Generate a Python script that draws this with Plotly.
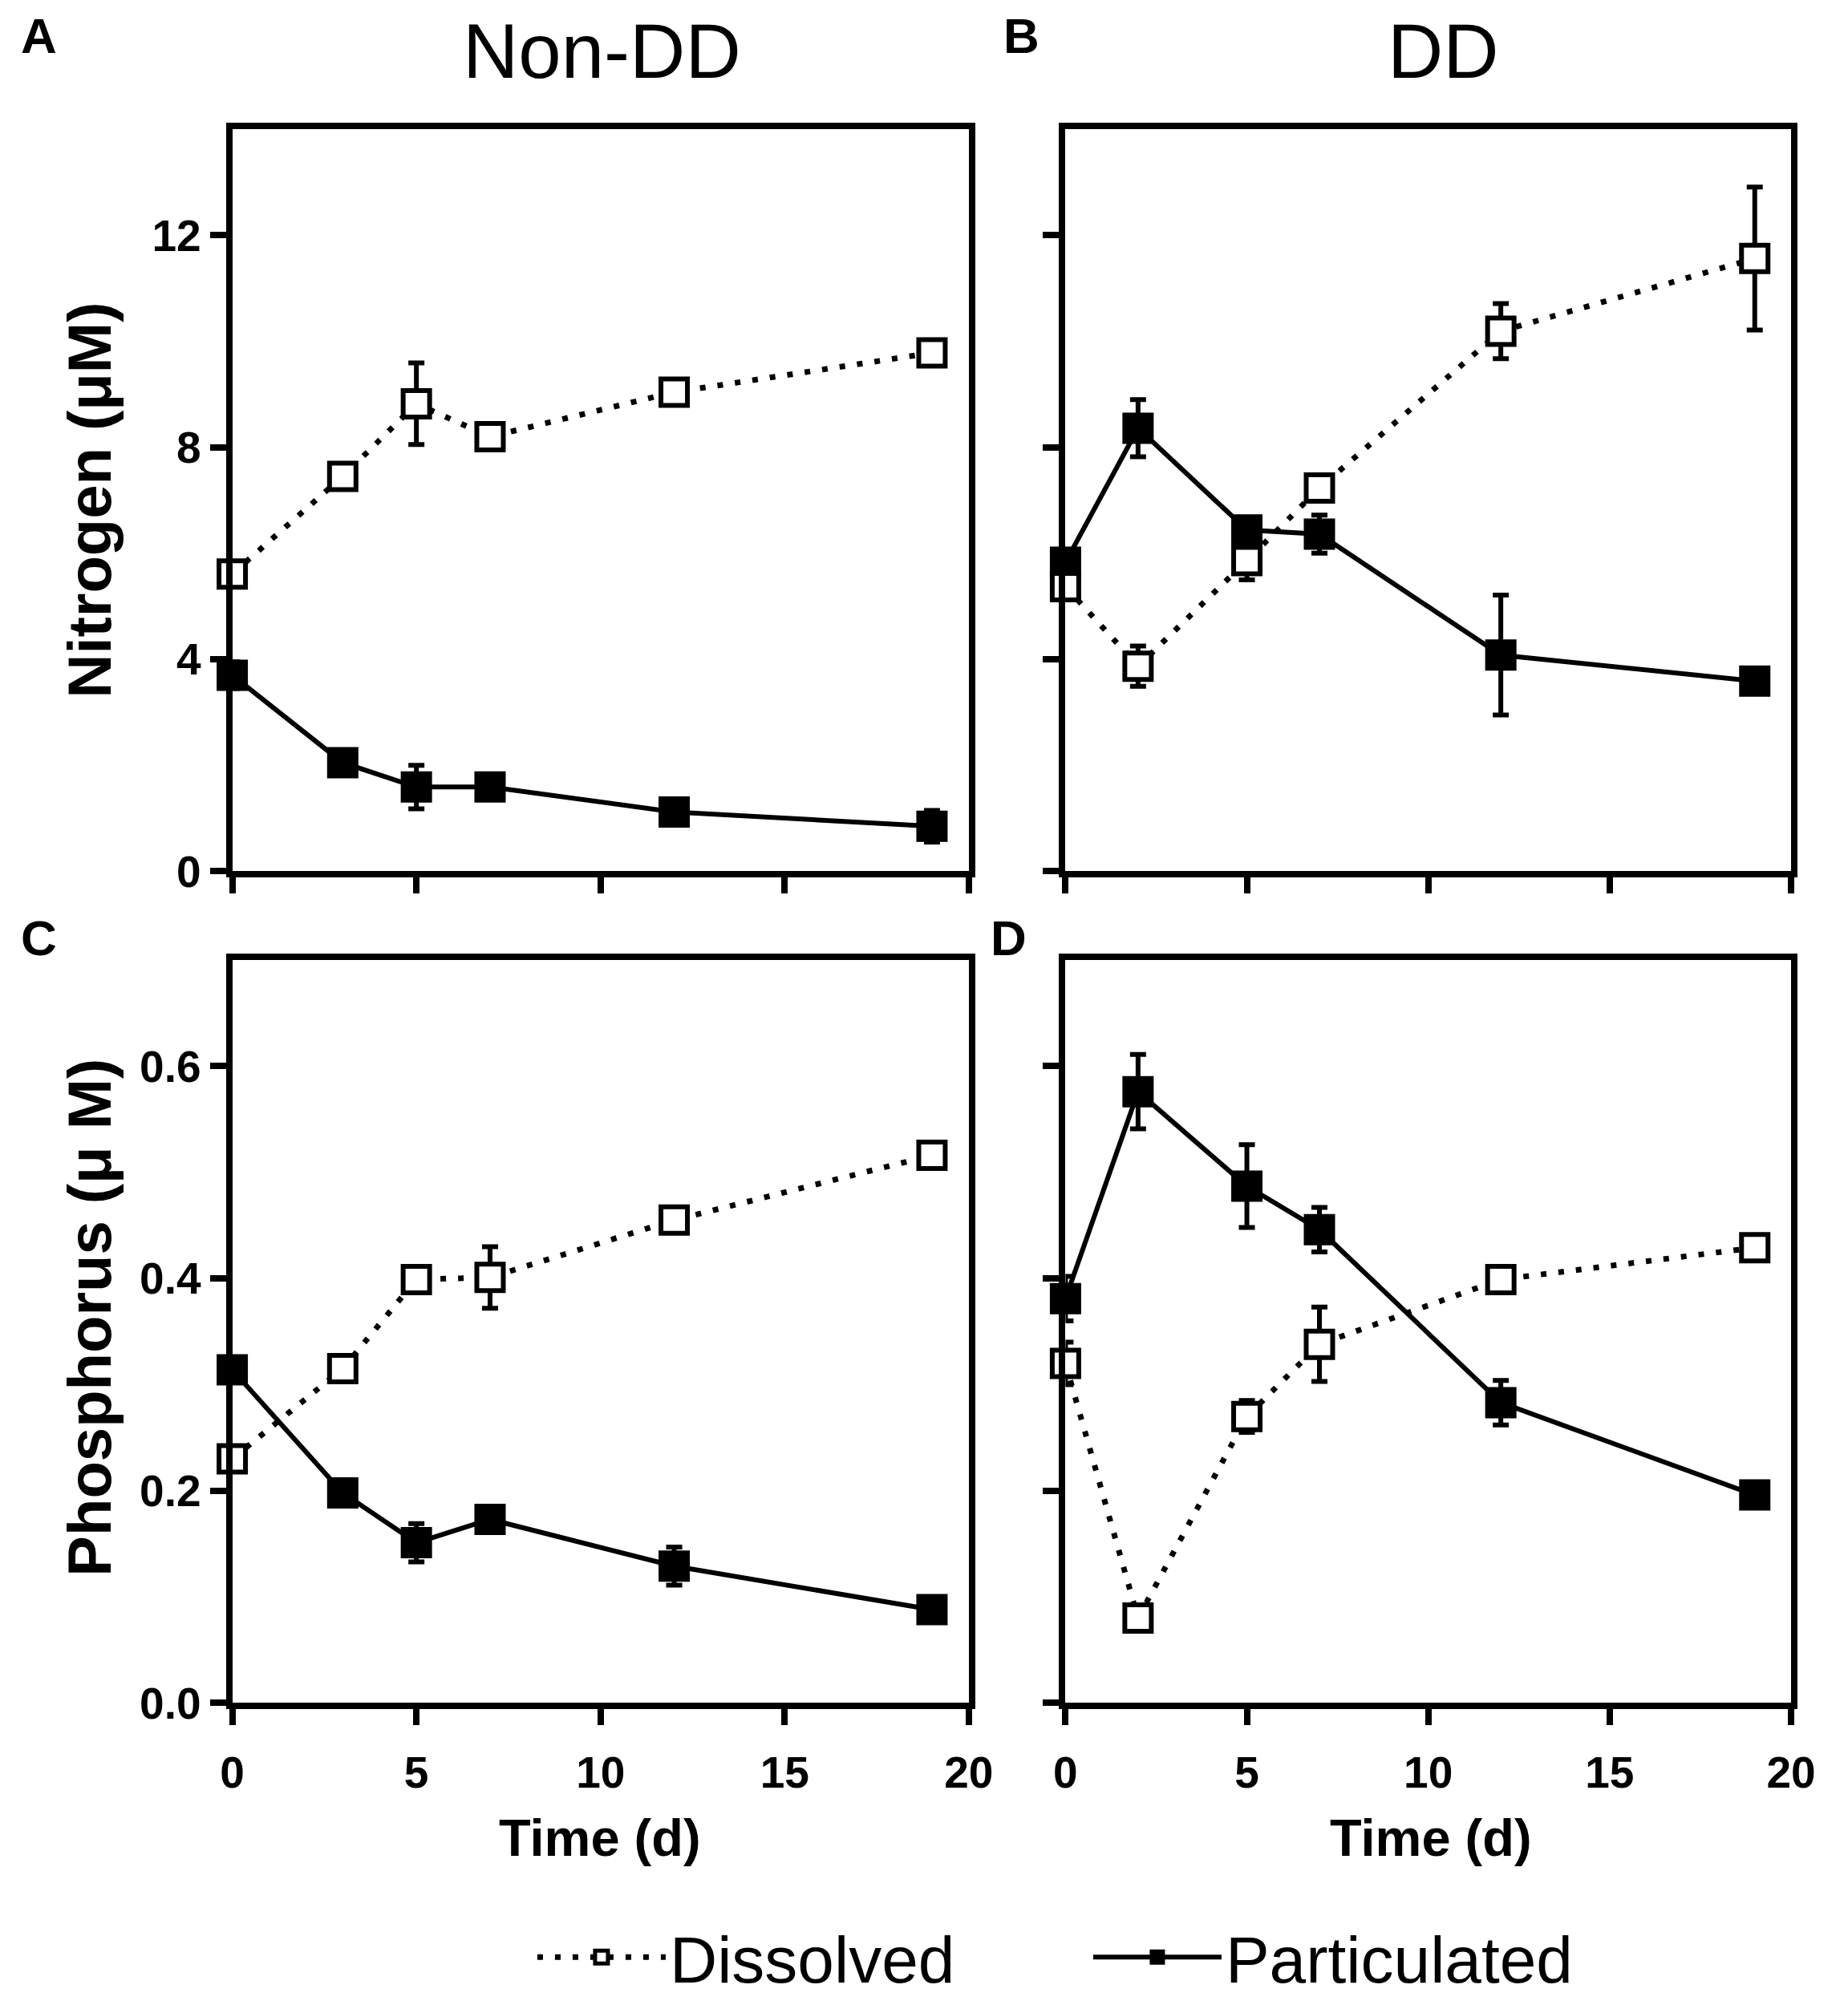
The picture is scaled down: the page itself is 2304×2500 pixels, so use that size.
import plotly.graph_objects as go
from plotly.subplots import make_subplots

# sampling days
days_nondd = [0, 3, 5, 7, 12, 19]
days_dd = [0, 2, 5, 7, 12, 19]

# nitrogen (uM)
n_nondd_dis = [5.61, 7.45, 8.82, 8.2, 9.04, 9.78]
n_nondd_dis_err = [0.1, 0.1, 0.77, 0.1, 0.1, 0.1]
n_nondd_par = [3.7, 2.05, 1.59, 1.59, 1.12, 0.85]
n_nondd_par_err = [0.25, 0.1, 0.41, 0.1, 0.1, 0.3]
n_dd_dis = [5.37, 3.87, 5.86, 7.23, 10.19, 11.56]
n_dd_dis_err = [0.1, 0.38, 0.36, 0.1, 0.52, 1.35]
n_dd_par = [5.83, 8.36, 6.44, 6.36, 4.08, 3.59]
n_dd_par_err = [0.1, 0.54, 0.1, 0.36, 1.13, 0.1]

# phosphorus (uM)
p_nondd_dis = [0.230, 0.315, 0.399, 0.401, 0.455, 0.516]
p_nondd_dis_err = [0.005, 0.005, 0.005, 0.029, 0.005, 0.005]
p_nondd_par = [0.314, 0.198, 0.151, 0.173, 0.129, 0.088]
p_nondd_par_err = [0.005, 0.005, 0.018, 0.005, 0.018, 0.005]
p_dd_dis = [0.320, 0.080, 0.270, 0.338, 0.399, 0.429]
p_dd_dis_err = [0.02, 0.005, 0.015, 0.035, 0.005, 0.005]
p_dd_par = [0.381, 0.576, 0.487, 0.446, 0.283, 0.196]
p_dd_par_err = [0.021, 0.035, 0.039, 0.021, 0.021, 0.012]

W, H = 2304, 2500
FAMILY = "Liberation Sans, Arial"
BOLD = dict(family=FAMILY, color="black", weight="bold")

fig = make_subplots(rows=2, cols=2)

panels = [
    (1, 1, days_nondd, n_nondd_dis, n_nondd_dis_err, n_nondd_par, n_nondd_par_err),
    (1, 2, days_dd, n_dd_dis, n_dd_dis_err, n_dd_par, n_dd_par_err),
    (2, 1, days_nondd, p_nondd_dis, p_nondd_dis_err, p_nondd_par, p_nondd_par_err),
    (2, 2, days_dd, p_dd_dis, p_dd_dis_err, p_dd_par, p_dd_par_err),
]

for i, (r, c, x, dis, dis_err, par, par_err) in enumerate(panels):
    first = i == 0
    # particulated drawn first so the open squares sit on top
    fig.add_trace(
        go.Scatter(
            x=x, y=par, mode="lines+markers", name="Particulated",
            legendgroup="par", showlegend=first, legendrank=2,
            line=dict(color="black", width=6),
            marker=dict(symbol="square", size=36, color="black",
                        line=dict(color="black", width=3)),
            error_y=dict(type="data", array=par_err, color="black",
                         thickness=6, width=10),
            cliponaxis=False,
        ),
        row=r, col=c,
    )
    fig.add_trace(
        go.Scatter(
            x=x, y=dis, mode="lines+markers", name="Dissolved",
            legendgroup="dis", showlegend=first, legendrank=1,
            line=dict(color="black", width=7, dash="7px,15px"),
            marker=dict(symbol="square", size=33, color="white",
                        line=dict(color="black", width=6)),
            error_y=dict(type="data", array=dis_err, color="black",
                         thickness=6, width=10),
            cliponaxis=False,
        ),
        row=r, col=c,
    )

# panel geometry (paper fractions)
xdom = [[272 / W, 1209 / W], [1332 / W, 2255 / W]]
ydom = [[1 - 1092 / H, 1 - 155 / H], [1 - 2142 / H, 1 - 1204 / H]]

axis_style = dict(
    showline=True, linecolor="black", linewidth=8, mirror=True,
    ticks="outside", ticklen=20, tickwidth=8, tickcolor="black",
    showgrid=False, zeroline=False,
    tickfont=dict(size=55, **BOLD),
)

for r in (1, 2):
    for c in (1, 2):
        fig.update_xaxes(
            axis_style, domain=xdom[c - 1], range=[0, 20],
            tickvals=[0, 5, 10, 15, 20], showticklabels=(r == 2),
            ticklabelstandoff=12, row=r, col=c,
        )
        if r == 1:
            fig.update_yaxes(axis_style, domain=ydom[0], range=[0, 14],
                             tickvals=[0, 4, 8, 12],
                             showticklabels=(c == 1), row=r, col=c)
        else:
            fig.update_yaxes(axis_style, domain=ydom[1], range=[0, 0.7],
                             tickvals=[0, 0.2, 0.4, 0.6], tickformat=".1f",
                             showticklabels=(c == 1), row=r, col=c)

annotations = [
    dict(text="Non-DD", x=742 / W, y=1, yanchor="top", font=dict(size=96, family=FAMILY, color="black")),
    dict(text="DD", x=1813 / W, y=1, yanchor="top", font=dict(size=96, family=FAMILY, color="black")),
    dict(text="A", x=26 / W, y=1, yanchor="top", font=dict(size=62, **BOLD)),
    dict(text="B", x=1276 / W, y=1, yanchor="top", font=dict(size=62, **BOLD)),
    dict(text="C", x=26 / W, y=1 - 1176 / H, font=dict(size=62, **BOLD)),
    dict(text="D", x=1260 / W, y=1 - 1176 / H, font=dict(size=62, **BOLD)),
    dict(text="Nitrogen (μM)", x=90 / W, y=1 - 623 / H, textangle=-90, font=dict(size=76, **BOLD)),
    dict(text="Phosphorus (μ M)", x=90 / W, y=1 - 1655 / H, textangle=-90, font=dict(size=76, **BOLD)),
    dict(text="Time (d)", x=740 / W, y=1 - 2312 / H, font=dict(size=65, **BOLD)),
    dict(text="Time (d)", x=1797 / W, y=1 - 2312 / H, font=dict(size=65, **BOLD)),
]
for a in annotations:
    a.setdefault("yanchor", "middle")
    a.update(xref="paper", yref="paper", showarrow=False, xanchor="center")

fig.update_layout(
    width=W, height=H,
    margin=dict(l=0, r=0, t=0, b=0),
    paper_bgcolor="white", plot_bgcolor="white",
    annotations=annotations,
    legend=dict(
        orientation="h", x=655 / W, xanchor="left", y=1 - 2463 / H, yanchor="middle",
        font=dict(size=82, family=FAMILY, color="black"),
        itemwidth=160, entrywidth=518, traceorder="normal",
    ),
)

fig.write_html("out.html")
